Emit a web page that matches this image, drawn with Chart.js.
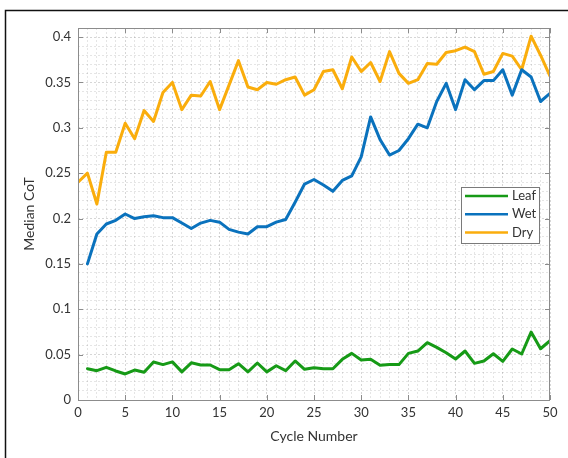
<!DOCTYPE html>
<html>
<head>
<meta charset="utf-8">
<script src="https://cdn.jsdelivr.net/npm/chart.js@4/dist/chart.umd.min.js"></script>
<style>
  html, body { margin: 0; padding: 0; background: #fff; }
  #wrap { width: 568px; height: 458px; }
</style>
</head>
<body>
<div id="wrap"><canvas id="c" width="568" height="458"></canvas></div>
<script>
// ---- data ----
const cycles = [0,1,2,3,4,5,6,7,8,9,10,11,12,13,14,15,16,17,18,19,20,21,22,23,24,25,26,27,28,29,30,31,32,33,34,35,36,37,38,39,40,41,42,43,44,45,46,47,48,49,50];

const leaf = [null,0.0345,0.0323,0.036,0.032,0.0287,0.033,0.0305,0.0419,0.039,0.042,
  0.031,0.041,0.0386,0.0386,0.0334,0.0334,0.040,0.031,0.0408,0.031,
  0.0378,0.0323,0.043,0.0338,0.0356,0.0345,0.0345,0.0448,0.0514,0.0441,
  0.0448,0.0382,0.039,0.039,0.0514,0.054,0.0632,0.058,0.052,0.0452,
  0.054,0.0404,0.043,0.051,0.0426,0.0562,0.0507,0.0749,0.0565,0.0654];

const wet = [null,0.150,0.183,0.194,0.198,0.205,0.200,0.202,0.203,0.201,0.201,
  0.195,0.189,0.195,0.198,0.196,0.188,0.185,0.183,0.191,0.191,
  0.196,0.199,0.218,0.238,0.243,0.237,0.230,0.242,0.247,0.268,
  0.312,0.287,0.270,0.275,0.288,0.304,0.300,0.329,0.349,0.320,
  0.353,0.342,0.352,0.352,0.364,0.336,0.364,0.356,0.329,0.338];

const dry = [0.240,0.250,0.216,0.273,0.273,0.305,0.288,0.319,0.307,0.339,0.350,
  0.320,0.336,0.335,0.351,0.320,0.347,0.374,0.345,0.342,0.350,
  0.348,0.353,0.356,0.336,0.342,0.362,0.364,0.343,0.378,0.362,
  0.372,0.351,0.384,0.360,0.349,0.353,0.371,0.370,0.383,0.385,
  0.389,0.384,0.359,0.362,0.382,0.379,0.364,0.401,0.380,0.357];

const seriesNames = ["Leaf", "Wet", "Dry"];
const xMajorLabels = [0,5,10,15,20,25,30,35,40,45,50];
const yMajorLabels = ["0","0.05","0.1","0.15","0.2","0.25","0.3","0.35","0.4"];

// ---- build ----
const colors = ["#169A16", "#0A72BD", "#FAAD0C"];
function pts(arr){ return cycles.map((c,i)=>({x:c,y:arr[i]})).filter(p=>p.y!==null); }

const FONT = "Lato, 'Open Sans', sans-serif";
const TXT = "#333333";

const framePlugin = {
  id: 'frame',
  beforeDraw(chart){
    const ctx = chart.ctx;
    ctx.save();
    ctx.fillStyle = '#fff';
    ctx.fillRect(0,0,chart.width,chart.height);
    ctx.restore();
  },
  afterDatasetsDraw(chart){
    const ctx = chart.ctx;
    const a = chart.chartArea;
    const xs = chart.scales.x, ys = chart.scales.y;
    ctx.save();
    // box
    ctx.strokeStyle = '#8c8c8c';
    ctx.lineWidth = 1;
    ctx.strokeRect(Math.round(a.left)+0.5, Math.round(a.top)+0.5, Math.round(a.right-a.left)-1, Math.round(a.bottom-a.top));
    // inner major ticks
    ctx.beginPath();
    xMajorLabels.forEach(v=>{
      const px = Math.round(xs.getPixelForValue(v))+0.5;
      ctx.moveTo(px, a.bottom); ctx.lineTo(px, a.bottom-5);
      ctx.moveTo(px, a.top); ctx.lineTo(px, a.top+5);
    });
    yMajorLabels.forEach(s=>{
      const py = Math.round(ys.getPixelForValue(parseFloat(s)))+0.5;
      ctx.moveTo(a.left, py); ctx.lineTo(a.left+5, py);
      ctx.moveTo(a.right, py); ctx.lineTo(a.right-5, py);
    });
    ctx.stroke();

    // legend
    const lx = 461, ly = 187, lw = 78, lh = 56;
    ctx.fillStyle = '#ffffff';
    ctx.fillRect(lx, ly, lw, lh);
    ctx.strokeStyle = '#7a7a7a';
    ctx.lineWidth = 1;
    ctx.strokeRect(lx+0.5, ly+0.5, lw, lh);
    ctx.font = "13px " + FONT;
    ctx.textBaseline = 'middle';
    ctx.textAlign = 'left';
    chart.data.datasets.forEach((d,i)=>{
      const yy = ly + 9 + i*18.3;
      ctx.strokeStyle = d.borderColor;
      ctx.lineWidth = 2.5;
      ctx.beginPath(); ctx.moveTo(lx+4, yy); ctx.lineTo(lx+47, yy); ctx.stroke();
      ctx.fillStyle = TXT;
      ctx.fillText(d.label, lx+51, yy);
    });

    // outer frame
    ctx.strokeStyle = '#111';
    ctx.lineWidth = 1.5;
    ctx.beginPath();
    ctx.moveTo(5.5, chart.height); ctx.lineTo(5.5, 10.5); ctx.lineTo(chart.width, 10.5);
    ctx.stroke();
    ctx.restore();
  }
};

function gridColor(ctx, isX){
  const v = ctx.tick ? ctx.tick.value : 0;
  const major = isX ? (Math.round(v) % 5 === 0) : (Math.round(v*100) % 5 === 0);
  return major ? 'rgba(0,0,0,0.16)' : 'rgba(0,0,0,0.10)';
}

new Chart(document.getElementById('c'), {
  type: 'line',
  data: {
    datasets: [
      { label: seriesNames[0], data: pts(leaf), borderColor: colors[0], backgroundColor: colors[0] },
      { label: seriesNames[1], data: pts(wet),  borderColor: colors[1], backgroundColor: colors[1] },
      { label: seriesNames[2], data: pts(dry),  borderColor: colors[2], backgroundColor: colors[2] }
    ]
  },
  options: {
    responsive: false,
    animation: false,
    devicePixelRatio: 1,
    layout: { padding: { left: 0, top: 28, right: 18, bottom: 0 } },
    elements: {
      line: { borderWidth: 3, tension: 0, borderJoinStyle: 'round', borderCapStyle: 'round' },
      point: { radius: 0 }
    },
    plugins: { legend: { display: false }, tooltip: { enabled: false } },
    scales: {
      x: {
        type: 'linear', min: 0, max: 50,
        afterBuildTicks(s){ s.ticks = cycles.map(v=>({value:v})); },
        afterFit(s){ s.height = 58; },
        ticks: {
          autoSkip: false, maxRotation: 0, padding: 5,
          color: TXT, font: { family: FONT, size: 13 },
          callback(v){ return xMajorLabels.includes(v) ? String(v) : ''; }
        },
        grid: { drawTicks: false, color: c=>gridColor(c,true), tickBorderDash:[1,2] , lineWidth: 1 },
        border: { display: false, dash: [2,2] },
        title: { display: true, text: 'Cycle Number', color: TXT, font: { family: FONT, size: 14 }, padding: { top: 0, bottom: 13 } }
      },
      y: {
        type: 'linear', min: 0, max: 0.41,
        afterBuildTicks(s){ const t=[]; for (let k=0;k<=41;k++) t.push({value:k/100}); s.ticks = t; },
        afterFit(s){ s.width = 78; },
        ticks: {
          autoSkip: false, padding: 7,
          color: TXT, font: { family: FONT, size: 13 },
          callback(v){ const k = Math.round(v*100); return k % 5 === 0 ? yMajorLabels[k/5] : ''; }
        },
        grid: { drawTicks: false, color: c=>gridColor(c,false), lineWidth: 1 },
        border: { display: false, dash: [2,2] },
        title: { display: true, text: 'Median CoT', color: TXT, font: { family: FONT, size: 14 }, padding: { top: 21, bottom: 0 } }
      }
    }
  },
  plugins: [framePlugin]
});
</script>
</body>
</html>
